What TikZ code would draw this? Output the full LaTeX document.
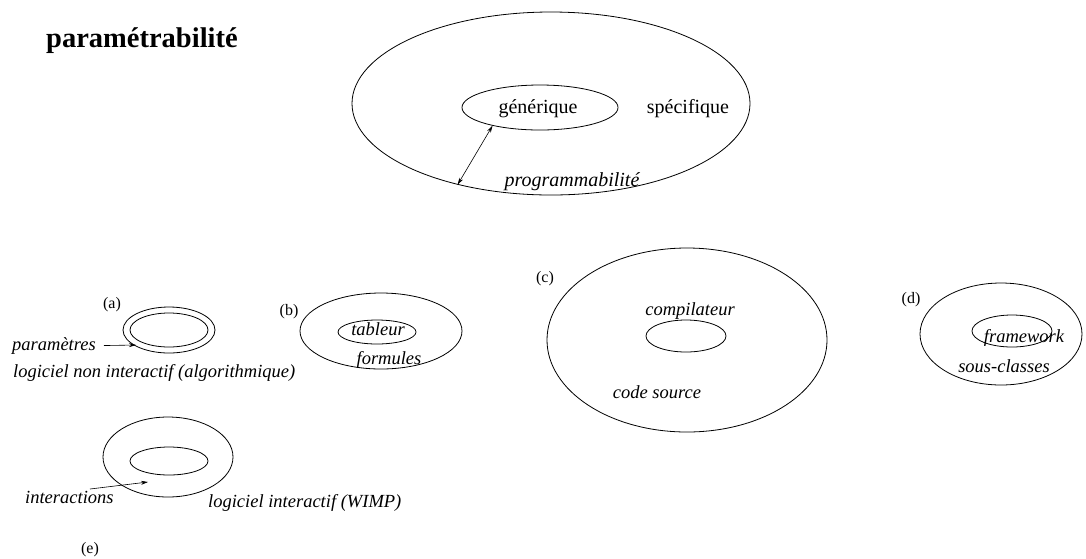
\documentclass[tikz,border=0pt]{standalone}
\usepackage{fontspec}
\setmainfont{Liberation Serif}
\usetikzlibrary{shapes.geometric,arrows.meta,calc}
\begin{document}
\begin{tikzpicture}[x=1pt,y=-1pt,
  ell/.style={draw,ellipse,line width=0.8pt,inner sep=0pt},
  up/.style={font=\fontsize{20}{22}\selectfont,inner sep=0pt},
  it/.style={font=\fontsize{18.5}{20}\selectfont\itshape,inner sep=0pt},
  lab/.style={font=\fontsize{16}{18}\selectfont,inner sep=0pt},
  arr/.style={line width=0.6pt,-{Stealth[length=7pt,width=4pt]}},
  darr/.style={line width=0.6pt,{Stealth[length=7pt,width=4pt]}-{Stealth[length=7pt,width=4pt]}},
]
\useasboundingbox (0,0) rectangle (1086,558);
% title
\node[anchor=base west,inner sep=0pt,font=\fontsize{28.5}{30}\selectfont\bfseries] (title) at (46,47) {paramétrabilité};
% top figure
\node[ell,minimum width=398pt,minimum height=183pt] (big) at (551,103.5) {};
\node[ell,minimum width=156pt,minimum height=45pt] (gen) at (540,107.5) {};
\node[up,anchor=base] (gentxt) at (538,113) {générique};
\node[up,anchor=base] (spec) at (688,113) {spécifique};
\node[it,font=\fontsize{20}{22}\selectfont\itshape,anchor=base] (prog) at (572,186) {programmabilité};
\draw[darr] (big.221) -- (gen.201);
% (a)
\node[lab,anchor=base] (la) at (112,308) {(a)};
\node[ell,minimum width=92pt,minimum height=46pt] (ao) at (169,330) {};
\node[ell,minimum width=78pt,minimum height=34pt] (ai) at (169,330) {};
\node[it,anchor=base west] (ptext) at (12,350) {paramètres};
\coordinate (ptip) at (136,345);
\draw[arr] ($(ptext.east)+(8,0)$) -- (ptip);
\node[it,anchor=base west] (logna) at (13,377) {logiciel non interactif (algorithmique)};
% (b)
\node[lab,anchor=base] (lb) at (289,315) {(b)};
\node[ell,minimum width=162pt,minimum height=76pt] (bo) at (381,331) {};
\node[ell,minimum width=78pt,minimum height=24pt] (bi) at (377,332) {};
\node[it,anchor=base] (tab) at (378,335) {tableur};
\node[it,anchor=base] (form) at (389,364) {formules};
% (c)
\node[lab,anchor=base] (lc) at (545,282) {(c)};
\node[ell,minimum width=280pt,minimum height=184pt] (co) at (687,340) {};
\node[ell,minimum width=80pt,minimum height=32pt] (ci) at (686,336) {};
\node[it,anchor=base] (comp) at (690,315) {compilateur};
\node[it,anchor=base] (code) at (657,398) {code source};
% (d)
\node[lab,anchor=base] (ld) at (911,303) {(d)};
\node[ell,minimum width=162pt,minimum height=102pt] (do) at (1001,334) {};
\node[ell,minimum width=80pt,minimum height=32pt] (di) at (1012,331) {};
\node[it,anchor=base] (fw) at (1024,342) {framework};
\node[it,anchor=base] (sc) at (1004,372) {sous-classes};
% (e)
\node[ell,minimum width=130pt,minimum height=80pt] (eo) at (168,457) {};
\node[ell,minimum width=78pt,minimum height=28pt] (ei) at (169,461) {};
\node[it,anchor=base west] (itext) at (25,503) {interactions};
\coordinate (istart) at (90,489);
\coordinate (itip) at (148,482);
\draw[arr] (istart) -- (itip);
\node[it,anchor=base west] (logi) at (208,507) {logiciel interactif (WIMP)};
\node[lab,anchor=base] (le) at (90,553) {(e)};
\end{tikzpicture}
\end{document}
